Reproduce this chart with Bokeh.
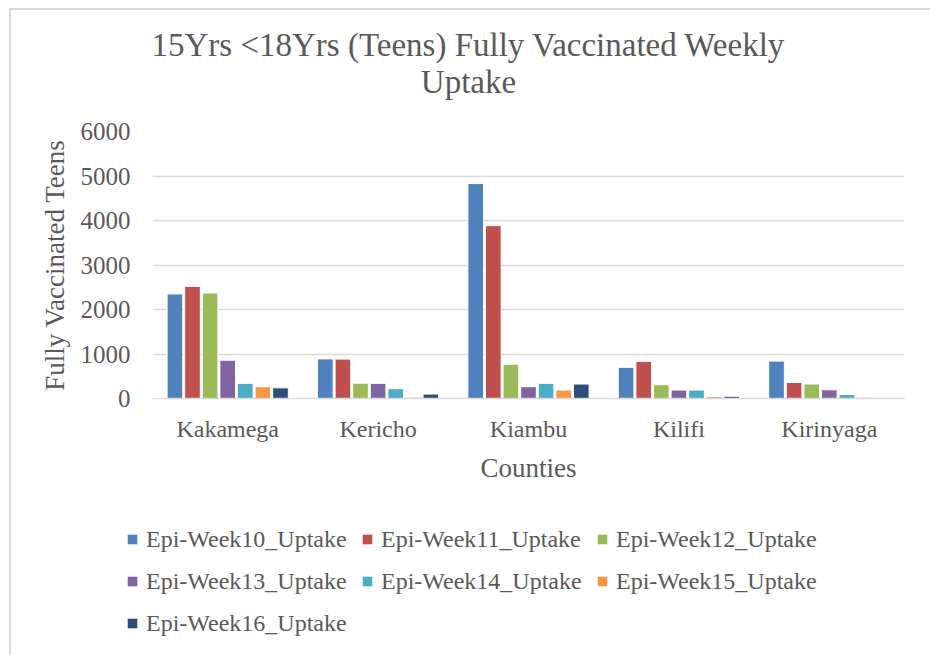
from bokeh.plotting import figure
from bokeh.models import (ColumnDataSource, FactorRange, Range1d, Legend, LegendItem,
                          Label, FixedTicker, Div)
from bokeh.transform import dodge
from bokeh.embed import file_html
from bokeh.resources import INLINE

# ---- data ----
counties = ["Kakamega", "Kericho", "Kiambu", "Kilifi", "Kirinyaga"]
series_names = ["Epi-Week10_Uptake", "Epi-Week11_Uptake", "Epi-Week12_Uptake",
                "Epi-Week13_Uptake", "Epi-Week14_Uptake", "Epi-Week15_Uptake",
                "Epi-Week16_Uptake"]
week10 = [2350, 890, 4830, 700, 840]
week11 = [2520, 885, 3885, 835, 360]
week12 = [2370, 345, 770, 310, 325]
week13 = [860, 340, 265, 190, 195]
week14 = [340, 220, 340, 190, 90]
week15 = [265, 30, 190, 45, 30]
week16 = [240, 100, 325, 50, 10]
y_ticks = [0, 1000, 2000, 3000, 4000, 5000, 6000]
title_lines = ["15Yrs <18Yrs (Teens) Fully Vaccinated Weekly", "Uptake"]
x_title = "Counties"
y_title = "Fully Vaccinated Teens"

colors = ["#4f81bd", "#c0504d", "#9bbb59", "#8064a2", "#4bacc6", "#f79646", "#2c4d75"]
FONT = "Liberation Serif"
TXT = "#595959"
GRID = "#d9d9d9"

W = 930
H_HEAD, H_MAIN, H_LEG = 110, 390, 155


def blank(h):
    f = figure(width=W, height=h, x_range=Range1d(1, 2), y_range=Range1d(1, 2),
               output_backend="svg", toolbar_location=None, title=None,
               x_axis_location=None, y_axis_location=None, min_border=0)
    f.grid.visible = False
    f.outline_line_color = None
    return f


# ---- header with title ----
head = blank(H_HEAD)
for txt, base in zip(title_lines, [44, 81]):
    head.add_layout(Label(x=468, y=H_HEAD - base, x_units="screen", y_units="screen",
                          text=txt, text_align="center", text_baseline="alphabetic",
                          text_font=FONT, text_font_size="33px", text_color=TXT))

# ---- main chart ----
cols = ["w10", "w11", "w12", "w13", "w14", "w15", "w16"]
source = ColumnDataSource(dict(county=counties, w10=week10, w11=week11, w12=week12,
                               w13=week13, w14=week14, w15=week15, w16=week16))
FL, FR, FT, FB = 152, 904, 131 - H_HEAD, 398 - H_HEAD
p = figure(width=W, height=H_MAIN, x_range=FactorRange(*counties), y_range=Range1d(0, 6000),
           output_backend="svg", toolbar_location=None, title=None,
           min_border_left=FL, min_border_right=W - FR, min_border_top=FT,
           min_border_bottom=H_MAIN - FB)
p.outline_line_color = None

pitch = 0.117
for i, (c, col) in enumerate(zip(cols, colors)):
    p.vbar(x=dodge("county", (i - 3) * pitch, range=p.x_range), top=c, width=0.104,
           source=source, fill_color=col, line_color="white", line_width=1)

p.xaxis.axis_line_color = GRID
p.xaxis.axis_line_width = 1.5
p.xaxis.major_tick_line_color = None
p.xaxis.minor_tick_line_color = None
p.xaxis.major_label_text_font = FONT
p.xaxis.major_label_text_font_size = "24px"
p.xaxis.major_label_text_color = TXT
p.xaxis.major_label_standoff = 11
p.xaxis.axis_label = x_title
p.xaxis.axis_label_text_font = FONT
p.xaxis.axis_label_text_font_size = "27px"
p.xaxis.axis_label_text_font_style = "normal"
p.xaxis.axis_label_text_color = TXT
p.xaxis.axis_label_standoff = 8

p.yaxis.ticker = FixedTicker(ticks=y_ticks)
p.yaxis.axis_line_color = None
p.yaxis.major_tick_line_color = None
p.yaxis.minor_tick_line_color = None
p.yaxis.major_tick_out = 0
p.yaxis.major_tick_in = 0
p.yaxis.major_label_text_font = FONT
p.yaxis.major_label_text_font_size = "25px"
p.yaxis.major_label_text_color = TXT
p.yaxis.major_label_standoff = 22
p.yaxis.axis_label = y_title
p.yaxis.axis_label_text_font = FONT
p.yaxis.axis_label_text_font_size = "27px"
p.yaxis.axis_label_text_font_style = "normal"
p.yaxis.axis_label_text_color = TXT
p.yaxis.axis_label_standoff = 8

p.ygrid.grid_line_color = GRID
p.ygrid.grid_line_width = 1.5
p.xgrid.grid_line_color = None

# ---- legend panel (zero-height helper bars outside the hidden range carry the swatches) ----
leg = blank(H_LEG)
items = []
for name, col in zip(series_names, colors):
    helper = ColumnDataSource(dict(x=[0], top=[0]))
    r = leg.vbar(x="x", top="top", width=0.1, source=helper, fill_color=col, line_color=None)
    items.append(LegendItem(label=name, renderers=[r]))
legend = Legend(items=items, location=(126, 15), orientation="horizontal", ncols=3,
                padding=0, margin=0, border_line_color=None, background_fill_alpha=0,
                glyph_width=12, glyph_height=12, label_standoff=8, spacing=8,
                label_height=34, label_width=207,
                label_text_font=FONT, label_text_font_size="24px", label_text_color=TXT)
leg.add_layout(legend, "center")

# chart-area frame lines (top and left edges, as in the cropped reference)
frame_div = Div(text="", width=0, height=0,
                styles={"position": "fixed", "left": "4px", "top": "3px",
                        "width": "940px", "height": "670px",
                        "border-top": "2px solid #d9d9d9", "border-left": "2px solid #d9d9d9",
                        "pointer-events": "none", "z-index": "10"})

open("out.html", "w").write(file_html([head, p, leg, frame_div], INLINE))
